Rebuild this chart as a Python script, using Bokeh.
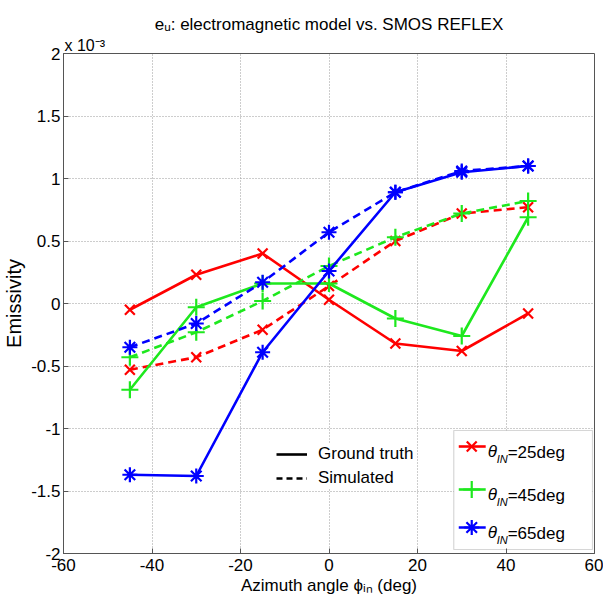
import math
from bokeh.plotting import figure
from bokeh.models import (Range1d, FixedTicker, Label, Legend, LegendItem,
                          BoxAnnotation, ColumnDataSource, Title)
from bokeh.embed import file_html
from bokeh.resources import INLINE

# ---------------- data (emissivity in units of 1e-3) ----------------
angles = [-45, -30, -15, 0, 15, 30, 45]
gt25 = [-0.05, 0.23, 0.40, 0.03, -0.32, -0.38, -0.08]
sim25 = [-0.53, -0.43, -0.21, 0.14, 0.50, 0.72, 0.77]
gt45 = [-0.69, -0.03, 0.16, 0.16, -0.12, -0.26, 0.69]
sim45 = [-0.43, -0.23, 0.02, 0.30, 0.53, 0.72, 0.82]
gt65 = [-1.37, -1.38, -0.39, 0.26, 0.89, 1.05, 1.10]
sim65 = [-0.35, -0.16, 0.17, 0.57, 0.89, 1.06, 1.10]

x_ticks = [-60, -40, -20, 0, 20, 40, 60]
x_tick_labels = ["-60", "-40", "-20", "0", "20", "40", "60"]
y_ticks = [-2, -1.5, -1, -0.5, 0, 0.5, 1, 1.5, 2]
y_tick_labels = ["-2", "-1.5", "-1", "-0.5", "0", "0.5", "1", "1.5", "2"]
legend_angles = ["25", "45", "65"]

FONT = "Liberation Sans"
RED, GREEN, BLUE = "#ff0000", "#1ee81e", "#0000ff"

W, H = 603, 604
p = figure(width=W, height=H, output_backend="svg", toolbar_location=None,
           x_range=Range1d(-60, 60), y_range=Range1d(-2, 2),
           min_border_left=62, min_border_right=9, min_border_top=53,
           min_border_bottom=51)
p.background_fill_color = "white"
p.border_fill_color = "white"
p.outline_line_color = "#555555"
p.outline_line_width = 1

# titles (stacked above the frame: first added is closest to the frame)
p.title.text = ""
p.title.visible = False
p.add_layout(Title(text="x 10\u207b\u00b3", align="left", offset=1,
                   text_font=FONT, text_font_size="16px", text_font_style="normal",
                   text_color="black", standoff=0), "above")
p.add_layout(Title(text="e\u1d64: electromagnetic model vs. SMOS REFLEX", align="center",
                   text_font=FONT, text_font_size="17px", text_font_style="normal",
                   text_color="black", standoff=2), "above")

for ax, ticks, labels in ((p.xaxis[0], x_ticks, x_tick_labels),
                          (p.yaxis[0], y_ticks, y_tick_labels)):
    ax.ticker = FixedTicker(ticks=ticks)
    ax.major_label_overrides = {t: l for t, l in zip(ticks, labels)}
    ax.major_label_text_font = FONT
    ax.major_label_text_font_size = "17px"
    ax.major_label_text_color = "black"
    ax.axis_line_color = "#555555"
    ax.major_tick_in = 5
    ax.major_tick_out = 0
    ax.major_tick_line_color = "#555555"
    ax.minor_tick_line_color = None
    ax.axis_label_text_font = FONT
    ax.axis_label_text_font_style = "normal"
    ax.axis_label_text_color = "black"
p.xaxis.major_label_standoff = 5
p.yaxis.major_label_standoff = 3
p.xaxis.axis_label = "Azimuth angle \u03d5\u1d62\u2099 (deg)"
p.xaxis.axis_label_text_font_size = "17px"
p.xaxis.axis_label_standoff = 2
p.yaxis.axis_label = "Emissivity"
p.yaxis.axis_label_text_font_size = "20px"
p.yaxis.axis_label_standoff = 3

p.xgrid.ticker = FixedTicker(ticks=x_ticks)
p.ygrid.ticker = FixedTicker(ticks=y_ticks)
p.grid.grid_line_color = "#9a9a9a"
p.grid.grid_line_dash = "1 2"
p.grid.grid_line_width = 1

# ---------------- series ----------------
series = [
    (gt25, sim25, RED, "x", 14),
    (gt45, sim45, GREEN, "cross", 17),
    (gt65, sim65, BLUE, "asterisk", 15),
]
for gt, sim, col, mk, sz in series:
    src_gt = ColumnDataSource(dict(x=angles, y=gt))
    src_sim = ColumnDataSource(dict(x=angles, y=sim))
    p.line("x", "y", source=src_sim, line_color=col, line_width=2.6, line_dash="8 5")
    p.scatter("x", "y", source=src_sim, marker=mk, size=sz, line_color=col, line_width=2.2)
    p.line("x", "y", source=src_gt, line_color=col, line_width=2.6)
    p.scatter("x", "y", source=src_gt, marker=mk, size=sz, line_color=col, line_width=2.2)

# ---------------- layout helpers (canvas pixel -> data, legend only) ----------------
def dx(px):
    return -60 + (px - 62) * 120.0 / 532.0

def dy(py):
    return 2 - (py - 53) * 4.0 / 500.0

def lab(px, py, text, size, italic=False):
    p.add_layout(Label(x=dx(px), y=dy(py), text=text, text_font=FONT,
                       text_font_size=f"{size}px", text_color="black",
                       text_font_style="italic" if italic else "normal",
                       text_align="left", text_baseline="alphabetic"))

# ---------------- legend 1: line styles ----------------
nan = float("nan")
r_solid = p.line(x=[nan, nan], y=[nan, nan], line_color="black", line_width=2.6)
r_dash = p.line(x=[nan, nan], y=[nan, nan], line_color="black", line_width=2.6,
                line_dash="6 4")
leg1 = Legend(items=[LegendItem(label="Ground truth", renderers=[r_solid]),
                     LegendItem(label="Simulated", renderers=[r_dash])],
              location=(213, 65), orientation="vertical")
leg1.label_text_font = FONT
leg1.label_text_font_size = "17px"
leg1.label_text_color = "black"
leg1.glyph_width = 31
leg1.glyph_height = 20
leg1.label_height = 20
leg1.label_standoff = 11
leg1.spacing = 4
leg1.padding = 7
leg1.margin = 0
leg1.border_line_color = None
leg1.background_fill_color = "white"
leg1.background_fill_alpha = 1
p.add_layout(leg1, "center")

# ---------------- legend 2: incidence angles ----------------
p.add_layout(BoxAnnotation(left=dx(453), right=dx(592), top=dy(430), bottom=dy(549),
                           fill_color="white", fill_alpha=1, level="underlay",
                           line_color="#777777", line_width=1.2))
rows = [446, 489, 527]
for (gt, sim, col, mk, sz), ang, ry in zip(series, legend_angles, rows):
    p.segment(x0=[dx(458)], y0=[dy(ry)], x1=[dx(485)], y1=[dy(ry)],
              line_color=col, line_width=2.6)
    p.scatter(x=[dx(471)], y=[dy(ry)], marker=mk, size=sz, line_color=col, line_width=2.2)
    lab(487, ry + 5, "\u03b8", 17, italic=True)
    lab(496, ry + 12, "IN", 11, italic=True)
    lab(507, ry + 6, f"={ang}deg", 17)

open("out.html", "w").write(file_html(p, INLINE))
